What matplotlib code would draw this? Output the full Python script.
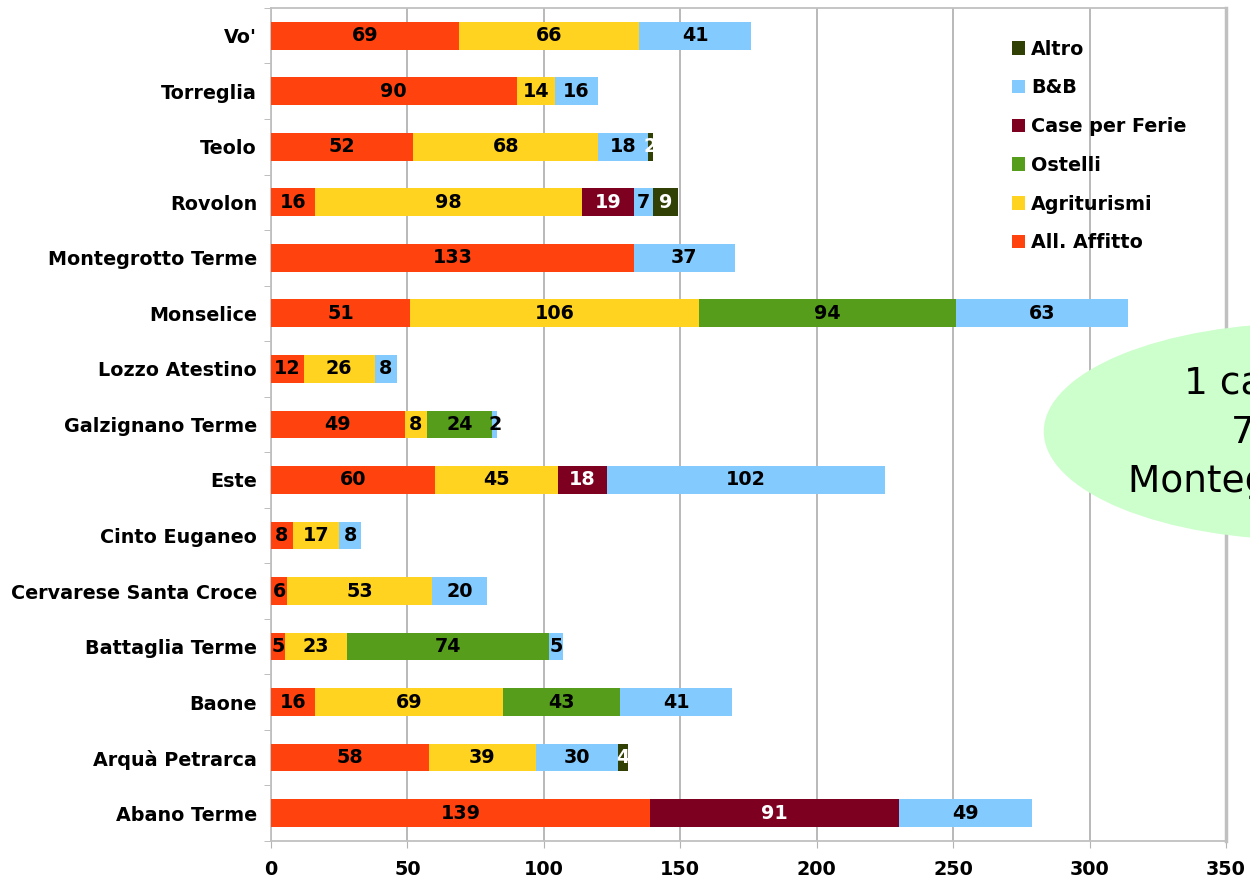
import numpy as np
import matplotlib.pyplot as plt
from matplotlib.patches import Ellipse

# comuni, dal basso verso l'alto
comuni = ["Abano Terme", "Arquà Petrarca", "Baone", "Battaglia Terme",
          "Cervarese Santa Croce", "Cinto Euganeo", "Este", "Galzignano Terme",
          "Lozzo Atestino", "Monselice", "Montegrotto Terme", "Rovolon",
          "Teolo", "Torreglia", "Vo'"]

all_affitto = [139, 58, 16, 5, 6, 8, 60, 49, 12, 51, 133, 16, 52, 90, 69]
agriturismi = [0, 39, 69, 23, 53, 17, 45, 8, 26, 106, 0, 98, 68, 14, 66]
ostelli = [0, 0, 43, 74, 0, 0, 0, 24, 0, 94, 0, 0, 0, 0, 0]
case_ferie = [91, 0, 0, 0, 0, 0, 18, 0, 0, 0, 0, 19, 0, 0, 0]
bnb = [49, 30, 41, 5, 20, 8, 102, 2, 8, 63, 37, 7, 18, 16, 41]
altro = [0, 4, 0, 0, 0, 0, 0, 0, 0, 0, 0, 9, 2, 0, 0]

serie = [("All. Affitto", all_affitto, "#ff420e", "black"),
         ("Agriturismi", agriturismi, "#ffd320", "black"),
         ("Ostelli", ostelli, "#579d1c", "black"),
         ("Case per Ferie", case_ferie, "#7e0021", "white"),
         ("B&B", bnb, "#83caff", "black"),
         ("Altro", altro, "#314004", "white")]

FS = 13.8
plt.rcParams['font.family'] = ['DejaVu Sans']

fig = plt.figure(figsize=(12.5, 8.81), dpi=100)
ax = fig.add_axes([0.2168, 0.0455, 0.764, 0.9455])

y = np.arange(len(comuni))
left = np.zeros(len(comuni))
for nome, vals, col, txtcol in serie:
    vals = np.array(vals, dtype=float)
    bars = ax.barh(y, vals, left=left, height=0.5, color=col, label=nome,
                   zorder=3)
    for b, v in zip(bars, vals):
        if v > 0:
            ax.text(b.get_x() + b.get_width() / 2, b.get_y() + b.get_height() / 2,
                    f"{int(v)}", ha="center", va="center", color=txtcol,
                    fontsize=FS, fontweight="bold", zorder=4)
    left += vals

ax.set_xlim(0, 350)
ax.set_ylim(-0.5, len(comuni) - 0.5)
ax.set_xticks(np.arange(0, 351, 50))
ax.set_yticks(y)
ax.set_yticklabels(comuni)
ax.set_yticks(np.arange(-0.5, len(comuni), 1), minor=True)
ax.tick_params(axis="y", which="major", length=0, pad=10)
ax.tick_params(axis="y", which="minor", length=5, color="#b3b3b3")
ax.tick_params(axis="x", length=5, color="#b3b3b3", pad=9)
for lab in ax.get_xticklabels() + ax.get_yticklabels():
    lab.set_fontsize(FS)
    lab.set_fontweight("bold")

ax.grid(axis="x", color="#b3b3b3", linewidth=1.3, zorder=0)
for s in ax.spines.values():
    s.set_color("#c0c0c0")
    s.set_linewidth(1.3)
ax.spines["right"].set_linewidth(2.5)

handles, labels = ax.get_legend_handles_labels()
leg = ax.legend(handles[::-1], labels[::-1], loc="upper left",
                bbox_to_anchor=(0.776, 0.962), frameon=False,
                prop={"size": FS, "weight": "bold"},
                handlelength=0.7, handleheight=0.7, handletextpad=0.3,
                labelspacing=1.03, borderaxespad=0, borderpad=0)

# nota sul campeggio
fig.add_artist(Ellipse((1.045, 0.5102), 0.42, 0.2463,
                       transform=fig.transFigure, facecolor="#ccffcc",
                       edgecolor="none", zorder=5))
fig.text(1.045, 0.5085, "1 campeggio\n76 posti\nMontegrotto Terme",
         ha="center", va="center", fontsize=27, linespacing=1.48, zorder=6)

fig.savefig("out.png", dpi=100)
